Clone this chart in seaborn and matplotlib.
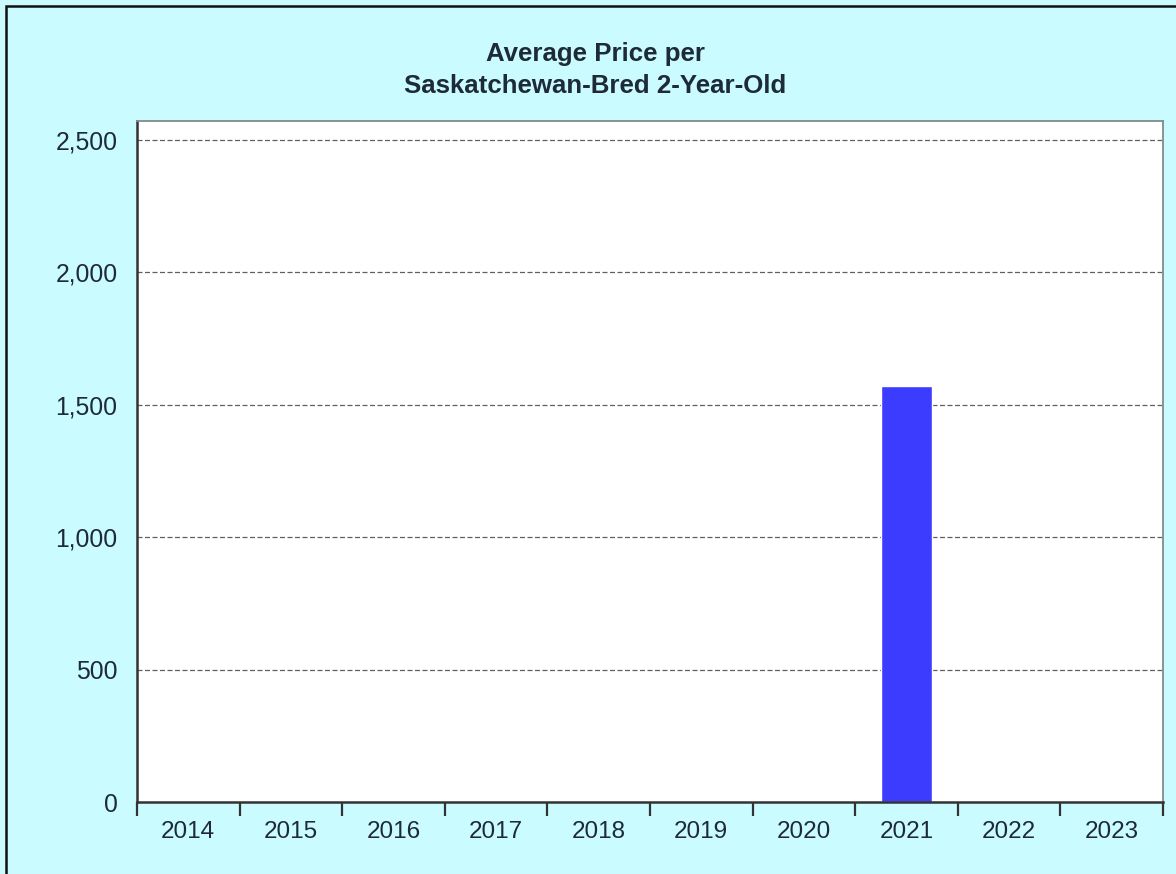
import numpy as np
import pandas as pd
import matplotlib
matplotlib.use("Agg")
import matplotlib.pyplot as plt
from matplotlib.patches import Rectangle
from matplotlib.ticker import FuncFormatter, FixedLocator
import seaborn as sns

# data
years = ["2014", "2015", "2016", "2017", "2018", "2019", "2020", "2021", "2022", "2023"]
avg_price = [np.nan, np.nan, np.nan, np.nan, np.nan, np.nan, np.nan, 1570, np.nan, np.nan]
title = "Average Price per\nSaskatchewan-Bred 2-Year-Old"

sns.set_style("white")
plt.rcParams['font.family'] = ['Liberation Sans', 'DejaVu Sans']

bg = '#C9FBFF'
txt = '#1E2A36'

df = pd.DataFrame({'year': years, 'price': avg_price})

fig = plt.figure(figsize=(11.76, 8.74), dpi=100, facecolor=bg)
ax = fig.add_axes([137/1176, 1 - 802/874, (1163-137)/1176, (802-121)/874])
ax.set_facecolor('white')

sns.barplot(data=df, x='year', y='price', order=years, color='#3C3CFF',
            width=0.5, saturation=1, ax=ax)

ax.set_ylim(0, 2572)
ax.set_xlim(-0.5, len(years) - 0.5)
ax.set_yticks([0, 500, 1000, 1500, 2000, 2500])
ax.yaxis.set_major_formatter(FuncFormatter(lambda v, p: f"{int(v):,}"))
ax.tick_params(axis='y', length=0, pad=14, labelsize=17.8, labelcolor=txt)
ax.tick_params(axis='x', which='major', length=0, pad=14, labelsize=17.5, labelcolor=txt)
ax.xaxis.set_minor_locator(FixedLocator(np.arange(-0.5, len(years), 1)))
ax.tick_params(axis='x', which='minor', bottom=True, length=10, width=1.6,
               color='#333333', direction='out')
ax.set_xlabel('')
ax.set_ylabel('')

for v in [500, 1000, 1500, 2000, 2500]:
    ax.axhline(v, color='#606060', lw=0.9, ls=(0, (4, 2)), zorder=0.5)

for s in ['left', 'bottom']:
    ax.spines[s].set_color('#333333')
    ax.spines[s].set_linewidth(1.8)
for s in ['top', 'right']:
    ax.spines[s].set_color('#7F8C8D')
    ax.spines[s].set_linewidth(1.3)

fig.text(595/1176, 1 - 70/874, title, ha='center', va='center', fontsize=18.6,
         fontweight='bold', color=txt, linespacing=1.38)

# outer frame
fig.patches.append(Rectangle((6/1176, -0.02), 1.05, 1 - 5.5/874 + 0.02,
                             transform=fig.transFigure, fill=False,
                             edgecolor='#111111', lw=1.8, clip_on=False))

fig.savefig('out.png', dpi=100, facecolor=bg)
